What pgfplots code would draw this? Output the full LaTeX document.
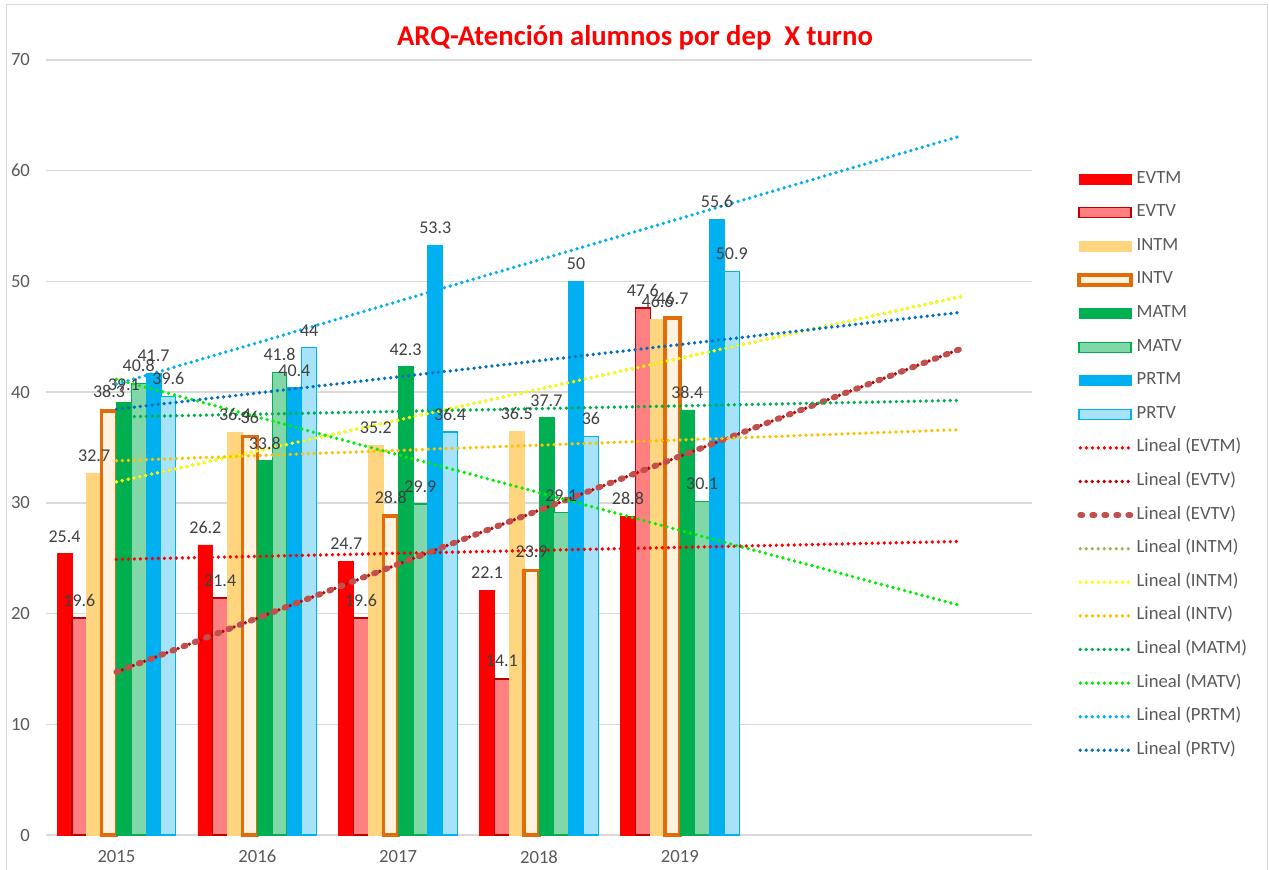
\documentclass[border=0pt]{standalone}
\usepackage{fontspec}
\setmainfont{Carlito}
\usepackage{pgfplots}
\usepackage{pgfplotstable}
\pgfplotsset{compat=1.18}

\definecolor{evtm}{HTML}{FF0000}
\definecolor{evtv}{HTML}{FF8080}
\definecolor{evtvline}{HTML}{C00000}
\definecolor{intm}{HTML}{FFD580}
\definecolor{intv}{HTML}{FFF2DF}
\definecolor{intvline}{HTML}{E36C0A}
\definecolor{matm}{HTML}{00B050}
\definecolor{matv}{HTML}{80D8A8}
\definecolor{prtm}{HTML}{00B0F0}
\definecolor{prtv}{HTML}{A6E3F8}
\definecolor{tevtvb}{HTML}{C0504D}
\definecolor{tintmA}{HTML}{9BBB59}
\definecolor{tintmB}{HTML}{FFFF00}
\definecolor{tintv}{HTML}{FFC000}
\definecolor{tmatv}{HTML}{00EE00}
\definecolor{tprtv}{HTML}{0070C0}
\definecolor{gridgray}{HTML}{D9D9D9}
\definecolor{tickgray}{HTML}{595959}
\definecolor{labelgray}{HTML}{404040}
\definecolor{titlered}{HTML}{FF0000}

% values per year (x = 0 .. 4 -> 2015 .. 2019)
\pgfplotstableread{
x EVTM EVTV INTM INTV MATM MATV PRTM PRTV
0 25.4 19.6 32.7 38.3 39.1 40.8 41.7 39.6
1 26.2 21.4 36.4 36.0 33.8 41.8 40.4 44.0
2 24.7 19.6 35.2 28.8 42.3 29.9 53.3 36.4
3 22.1 14.1 36.5 23.9 37.7 29.1 50.0 36.0
4 28.8 47.6 46.6 46.7 38.4 30.1 55.6 50.9
}\datos

% one x unit = 739.5pt / 7 = 105.643pt
\pgfplotsset{
  bars/.style={ybar, bar width=0.1053, bar shift=#1,
    nodes near coords,
    every node near coord/.append style={font=\fontsize{13.5}{15}\selectfont,
      text=labelgray, yshift=5pt, xshift={#1*105.643pt}},
    legend image code/.code={\draw[##1] (0pt,-3.75pt) rectangle (39pt,3.75pt);}},
  trend/.style={sharp plot, line width=2.8pt, line cap=round,
    dash pattern=on 0pt off 4.5pt,
    legend image code/.code={\draw[##1] (1pt,0pt) -- (39pt,0pt);}},
  bigtrend/.style={sharp plot, line width=4.5pt, line cap=round,
    dash pattern=on 1.5pt off 7.5pt,
    legend image code/.code={\draw[##1] (1pt,0pt) -- (39pt,0pt);}},
}

\begin{document}
\begin{tikzpicture}
\path[use as bounding box] (-34.5pt,-25.5pt) rectangle (917.25pt,626.25pt);
\draw[gridgray, line width=0.75pt] (-29.25pt,-30pt) -- (-29.25pt,622.5pt)
  -- (915.75pt,622.5pt) -- (915.75pt,-30pt);
\begin{axis}[
  at={(0pt,0pt)}, anchor=south west,
  scale only axis, width=739.5pt, height=581.25pt,
  xmin=-0.5, xmax=6.5, ymin=0, ymax=70,
  xtick={0,1,2,3,4}, xticklabels={2015,2016,2017,2018,2019},
  ytick={0,10,...,70},
  ymajorgrids, grid style={draw=gridgray, line width=1.1pt},
  axis line style={draw=none},
  major tick length=0pt,
  tick label style={font=\fontsize{14}{16}\selectfont, text=tickgray},
  xticklabel style={yshift=-8pt},
  yticklabel style={anchor=east, xshift=-8.5pt},
  /pgf/number format/assume math mode=true,
  legend cell align=left,
  legend style={draw=none, fill=none, at={(1.0456,0.857)}, anchor=north west,
    inner sep=0pt, row sep=13.2pt, font=\fontsize{14}{16}\selectfont,
    text=tickgray, nodes={inner sep=0pt, text height=9pt, text depth=3pt},
    /tikz/every odd column/.append style={column sep=2pt}},
  clip=false,
]
\addplot[bars=-0.3686, fill=evtm, draw=evtm, line width=0.5pt] table[x=x,y=EVTM] {\datos};
\addplot[bars=-0.2633, fill=evtv, draw=evtvline, line width=1pt] table[x=x,y=EVTV] {\datos};
\addplot[bars=-0.1580, fill=intm, draw=intm, line width=0.5pt] table[x=x,y=INTM] {\datos};
\addplot[bars=-0.0527, fill=intv, draw=intvline, line width=2.6pt] table[x=x,y=INTV] {\datos};
\addplot[bars=0.0527, fill=matm, draw=matm, line width=0.5pt] table[x=x,y=MATM] {\datos};
\addplot[bars=0.1580, fill=matv, draw=matm, line width=0.8pt] table[x=x,y=MATV] {\datos};
\addplot[bars=0.2633, fill=prtm, draw=prtm, line width=0.5pt] table[x=x,y=PRTM] {\datos};
\addplot[bars=0.3686, fill=prtv, draw=prtm, line width=0.8pt] table[x=x,y=PRTV] {\datos};

% lineas de tendencia (inicio y fin)
\addplot[trend, color=evtm] coordinates {(0,24.90) (6,26.52)};
\addplot[trend, color=evtvline] coordinates {(0,14.72) (6,43.94)};
\addplot[bigtrend, color=tevtvb] coordinates {(0,14.72) (6,43.94)};
\addplot[trend, color=tintmA] coordinates {(0,31.90) (6,48.64)};
\addplot[trend, color=tintmB] coordinates {(0,31.90) (6,48.64)};
\addplot[trend, color=tintv] coordinates {(0,33.80) (6,36.62)};
\addplot[trend, color=matm] coordinates {(0,37.76) (6,39.26)};
\addplot[trend, color=tmatv] coordinates {(0,41.16) (6,20.70)};
\addplot[trend, color=prtm] coordinates {(0,40.72) (6,63.16)};
\addplot[trend, color=tprtv] coordinates {(0,38.46) (6,47.22)};

\legend{EVTM,EVTV,INTM,INTV,MATM,MATV,PRTM,PRTV,
  Lineal (EVTM),Lineal (EVTV),Lineal (EVTV),Lineal (INTM),Lineal (INTM),
  Lineal (INTV),Lineal (MATM),Lineal (MATV),Lineal (PRTM),Lineal (PRTV)}
\end{axis}
\node[text=titlered, font=\fontsize{21.5}{25}\selectfont\bfseries]
  at (441.75pt,597.75pt) {ARQ-Atención alumnos por dep~ X turno};
\end{tikzpicture}
\end{document}
